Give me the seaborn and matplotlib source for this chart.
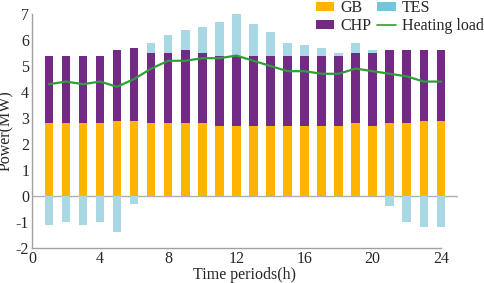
import numpy as np
import pandas as pd
import matplotlib
matplotlib.use("Agg")
import matplotlib.pyplot as plt
from matplotlib.patches import Patch
from matplotlib.lines import Line2D
import seaborn as sns

hours = list(range(1, 25))
gb = [2.8, 2.8, 2.8, 2.8, 2.9, 2.9, 2.8, 2.8, 2.8, 2.8, 2.7, 2.7,
      2.7, 2.7, 2.7, 2.7, 2.7, 2.7, 2.8, 2.7, 2.8, 2.8, 2.9, 2.9]
chp = [2.6, 2.6, 2.6, 2.6, 2.7, 2.8, 2.7, 2.7, 2.8, 2.7, 2.7, 2.7,
       2.7, 2.7, 2.7, 2.7, 2.7, 2.7, 2.7, 2.8, 2.8, 2.8, 2.7, 2.7]
tes = [-1.1, -1.0, -1.1, -1.0, -1.4, -0.3, 0.4, 0.7, 0.8, 1.0, 1.3, 1.6,
       1.2, 0.9, 0.5, 0.4, 0.3, 0.1, 0.4, 0.1, -0.4, -1.0, -1.2, -1.2]
heating_load = [4.3, 4.4, 4.3, 4.4, 4.2, 4.5, 4.9, 5.2, 5.2, 5.3, 5.3, 5.4,
                5.2, 5.0, 4.8, 4.8, 4.7, 4.7, 4.9, 4.8, 4.7, 4.6, 4.4, 4.4]

df = pd.DataFrame({"hour": hours, "GB": gb, "CHP": chp, "TES": tes, "load": heating_load})
df["gb_chp"] = df["GB"] + df["CHP"]
df["tes_top"] = df["gb_chp"] + df["TES"].clip(lower=0)
df["tes_neg"] = df["TES"].clip(upper=0)

c_gb = "#FFB400"
c_chp = "#732A85"
c_tes = "#A8D8E4"
c_tes_leg = "#72C6DA"
c_line = "#2E9E3A"

sns.set_style("white")
plt.rcParams["font.family"] = ["Liberation Serif", "DejaVu Serif"]
plt.rcParams["font.size"] = 11

fig = plt.figure(figsize=(4.84, 2.83), dpi=100)
ax = fig.add_axes([0.066, 0.124, 0.88, 0.8265])

common = dict(native_scale=True, width=0.5, errorbar=None, saturation=1, linewidth=0, ax=ax)
sns.barplot(data=df, x="hour", y="tes_top", color=c_tes, **common)
sns.barplot(data=df, x="hour", y="gb_chp", color=c_chp, **common)
sns.barplot(data=df, x="hour", y="GB", color=c_gb, **common)
sns.barplot(data=df, x="hour", y="tes_neg", color=c_tes, **common)
sns.lineplot(data=df, x="hour", y="load", color=c_line, linewidth=1.6, ax=ax)

ax.axhline(0, color="#b0b0b0", linewidth=1.0, zorder=0.5)

ax.set_xlim(0, 25)
ax.set_ylim(-2, 7)
ax.set_xticks([0, 4, 8, 12, 16, 20, 24])
ax.set_xticklabels(["0", "4", "8", "12", "16", "20", "24"])
ax.set_yticks(range(-2, 8))
ax.set_yticklabels([str(v) for v in range(-2, 8)])
ax.set_xlabel("Time periods(h)", fontsize=11.5, labelpad=0)
ax.set_ylabel("Power(MW)", fontsize=11.5, labelpad=0)

for s in ["top", "right"]:
    ax.spines[s].set_visible(False)
for s in ["left", "bottom"]:
    ax.spines[s].set_color("#a0a0a0")
    ax.spines[s].set_linewidth(1.0)
ax.spines["bottom"].set_bounds(0, 24)
ax.tick_params(direction="in", length=3, color="#a0a0a0", width=0.8, labelsize=11.5, pad=2)

# keep y label inside the figure
ax.yaxis.set_label_coords(-0.041, 0.5)

handles = [
    Patch(facecolor=c_gb, edgecolor="none", label="GB"),
    Patch(facecolor=c_chp, edgecolor="none", label="CHP"),
    Patch(facecolor=c_tes_leg, edgecolor="none", label="TES"),
    Line2D([0], [0], color=c_line, linewidth=1.2, label="Heating load"),
]
fig.legend(handles=handles, ncol=2, loc="upper right", bbox_to_anchor=(1.0, 1.0),
           frameon=False, fontsize=11.5, handlelength=1.15, handleheight=0.5,
           handletextpad=0.4, columnspacing=0.35, labelspacing=0.15,
           borderpad=0, borderaxespad=0)

fig.savefig("out.png", dpi=100)
